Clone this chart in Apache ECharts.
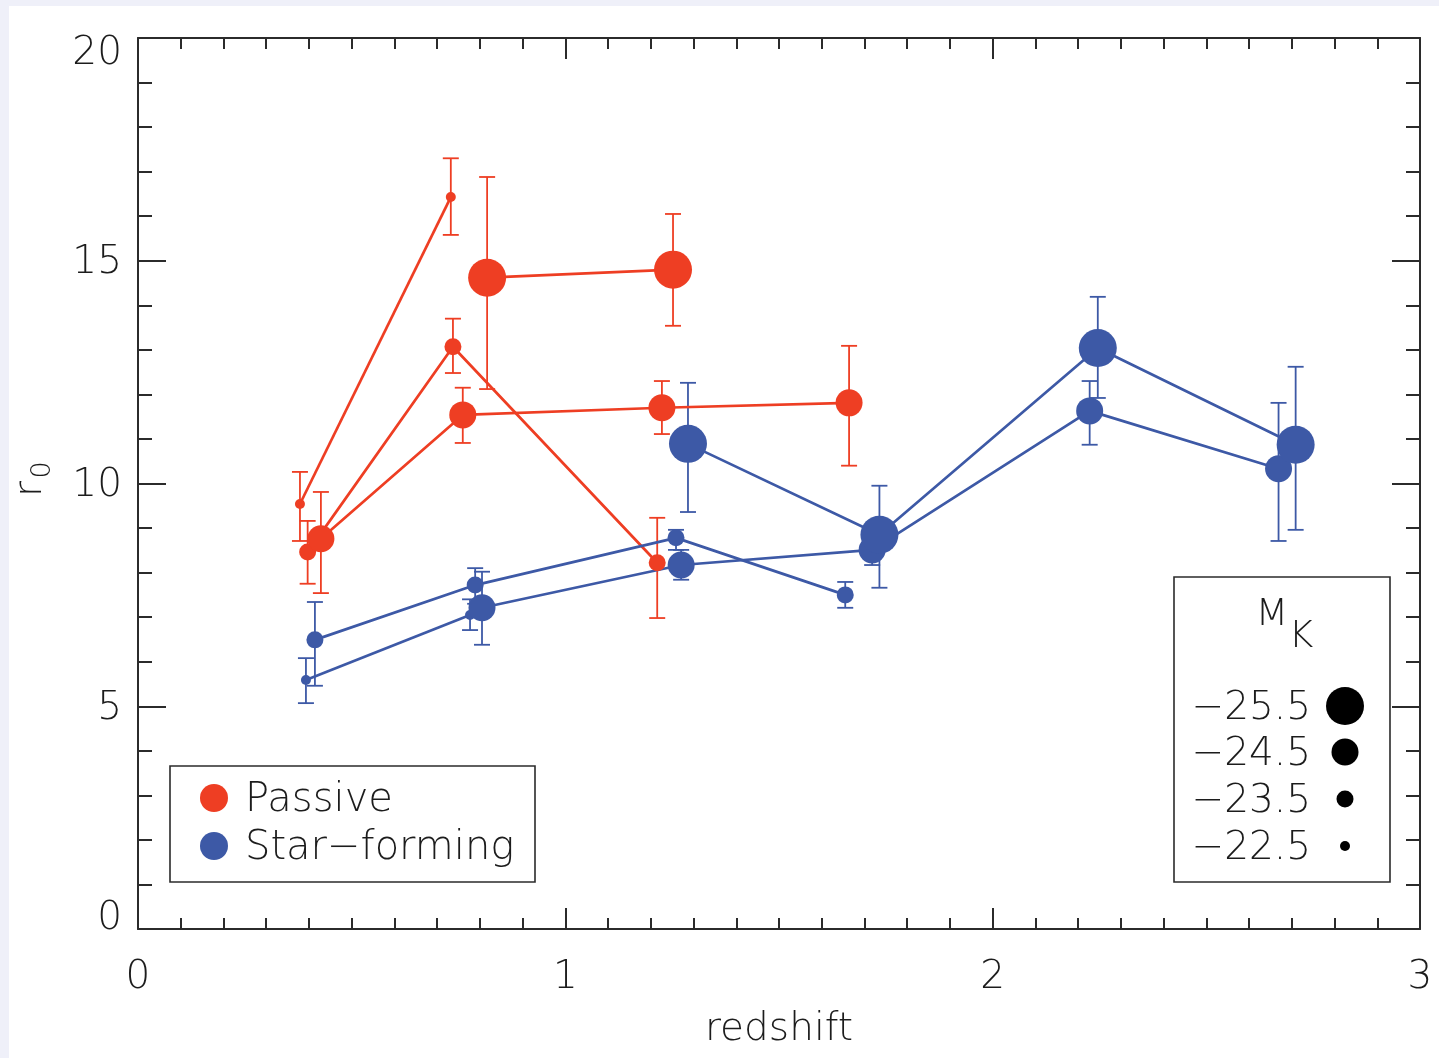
<!DOCTYPE html>
<html>
<head>
<meta charset="utf-8">
<script src="https://cdn.jsdelivr.net/npm/echarts@6/dist/echarts.min.js"></script>
<style>
html,body{margin:0;padding:0;background:#ffffff;}
#chart{width:1439px;height:1058px;}
</style>
</head>
<body>
<div id="chart"></div>
<script>
// ---------- data ----------
const xTicks = [0, 1, 2, 3];
const yTicks = [0, 5, 10, 15, 20];
const magnitudes = ['−25.5', '−24.5', '−23.5', '−22.5'];
const typeNames = ['Passive', 'Star−forming'];

// Passive, M_K = -22.5
const pas225_z  = [0.379, 0.732];
const pas225_r  = [9.54, 16.43];
const pas225_hi = [10.26, 17.30];
const pas225_lo = [8.71, 15.58];
// Passive, M_K = -23.5
const pas235_z  = [0.397, 0.737, 1.215];
const pas235_r  = [8.46, 13.07, 8.22];
const pas235_hi = [9.16, 13.70, 9.23];
const pas235_lo = [7.75, 12.48, 6.98];
// Passive, M_K = -24.5
const pas245_z  = [0.428, 0.760, 1.226, 1.664];
const pas245_r  = [8.76, 11.54, 11.70, 11.81];
const pas245_hi = [9.81, 12.15, 12.30, 13.09];
const pas245_lo = [7.54, 10.91, 11.11, 10.40];
// Passive, M_K = -25.5
const pas255_z  = [0.817, 1.252];
const pas255_r  = [14.62, 14.80];
const pas255_hi = [16.88, 16.05];
const pas255_lo = [12.12, 13.54];

// Star-forming, M_K = -22.5
const sf225_z  = [0.393, 0.777];
const sf225_r  = [5.59, 7.05];
const sf225_hi = [6.08, 7.40];
const sf225_lo = [5.07, 6.71];
// Star-forming, M_K = -23.5
const sf235_z  = [0.414, 0.789, 1.259, 1.655];
const sf235_r  = [6.49, 7.72, 8.78, 7.50];
const sf235_hi = [7.34, 8.10, 8.96, 7.79];
const sf235_lo = [5.46, 7.30, 8.51, 7.21];
// Star-forming, M_K = -24.5
const sf245_z  = [0.805, 1.271, 1.718, 2.227, 2.669];
const sf245_r  = [7.21, 8.17, 8.51, 11.63, 10.33];
const sf245_hi = [8.02, 8.51, 8.85, 12.30, 11.81];
const sf245_lo = [6.38, 7.84, 8.17, 10.87, 8.71];
// Star-forming, M_K = -25.5
const sf255_z  = [1.287, 1.735, 2.246, 2.709];
const sf255_r  = [10.89, 8.85, 13.04, 10.87];
const sf255_hi = [12.26, 9.95, 14.19, 12.62];
const sf255_lo = [9.36, 7.66, 11.92, 8.96];

// ---------- styles ----------
const RED = '#ee3e23';
const BLUE = '#3d59a6';
const INK = '#2b2b2b';
const TXT = '#1c1c1c';
const FONT = 'DejaVu Sans';
const FW = 200;
const sizeByMag = {'−25.5': 38, '−24.5': 27, '−23.5': 17, '−22.5': 10};

const groups = [
  {type: 1, mag: '−22.5', z: sf225_z, r: sf225_r, hi: sf225_hi, lo: sf225_lo},
  {type: 1, mag: '−23.5', z: sf235_z, r: sf235_r, hi: sf235_hi, lo: sf235_lo},
  {type: 1, mag: '−24.5', z: sf245_z, r: sf245_r, hi: sf245_hi, lo: sf245_lo},
  {type: 1, mag: '−25.5', z: sf255_z, r: sf255_r, hi: sf255_hi, lo: sf255_lo},
  {type: 0, mag: '−22.5', z: pas225_z, r: pas225_r, hi: pas225_hi, lo: pas225_lo},
  {type: 0, mag: '−23.5', z: pas235_z, r: pas235_r, hi: pas235_hi, lo: pas235_lo},
  {type: 0, mag: '−24.5', z: pas245_z, r: pas245_r, hi: pas245_hi, lo: pas245_lo},
  {type: 0, mag: '−25.5', z: pas255_z, r: pas255_r, hi: pas255_hi, lo: pas255_lo}
];

function errRender(color) {
  return function (params, api) {
    const x = api.value(0);
    const lo = api.coord([x, api.value(1)]);
    const hi = api.coord([x, api.value(2)]);
    const w = 8;
    const st = {stroke: color, lineWidth: 1.8};
    return {
      type: 'group',
      children: [
        {type: 'line', shape: {x1: lo[0], y1: lo[1], x2: hi[0], y2: hi[1]}, style: st},
        {type: 'line', shape: {x1: hi[0] - w, y1: hi[1], x2: hi[0] + w, y2: hi[1]}, style: st},
        {type: 'line', shape: {x1: lo[0] - w, y1: lo[1], x2: lo[0] + w, y2: lo[1]}, style: st}
      ]
    };
  };
}

const series = [];
[1, 0].forEach(function (t) {
  groups.filter(g => g.type === t).forEach(function (g) {
    const color = t === 0 ? RED : BLUE;
    series.push({
      type: 'custom',
      name: typeNames[t] + ' err ' + g.mag,
      renderItem: errRender(color),
      data: g.z.map((zz, i) => [zz, g.lo[i], g.hi[i]]),
      encode: {x: 0, y: [1, 2]},
      silent: true,
      animation: false,
      z: 2
    });
  });
});
[0, 1].forEach(function (t) {
  groups.filter(g => g.type === t).forEach(function (g) {
    const color = t === 0 ? RED : BLUE;
    series.push({
      type: 'line',
      name: typeNames[t] + ' ' + g.mag,
      data: g.z.map((zz, i) => [zz, g.r[i]]),
      symbol: 'circle',
      symbolSize: sizeByMag[g.mag],
      showSymbol: true,
      lineStyle: {color: color, width: 2.7},
      itemStyle: {color: color},
      emphasis: {disabled: true},
      animation: false,
      z: 3
    });
  });
});

const tickStyle = {color: INK, width: 2};
const axisLineStyle = {color: INK, width: 2};

function xAxisDef(pos, showLabel) {
  return {
    type: 'value', position: pos, min: xTicks[0], max: xTicks[xTicks.length - 1], interval: 1,
    axisLine: {show: true, onZero: false, lineStyle: axisLineStyle},
    axisTick: {show: true, inside: true, length: 21, lineStyle: tickStyle},
    minorTick: {show: true, splitNumber: 10, length: 11, lineStyle: tickStyle},
    splitLine: {show: false},
    axisLabel: {show: showLabel, color: TXT, fontFamily: FONT, fontWeight: FW, fontSize: 39, margin: 29},
    name: showLabel ? 'redshift' : '',
    nameLocation: 'middle',
    nameGap: 81,
    nameTextStyle: {color: TXT, fontFamily: FONT, fontWeight: FW, fontSize: 39}
  };
}
function yAxisDef(pos, showLabel) {
  const lbl = {fontFamily: FONT, fontWeight: FW, fontSize: 39, color: TXT};
  return {
    type: 'value', position: pos, min: yTicks[0], max: yTicks[yTicks.length - 1], interval: 5,
    axisLine: {show: true, onZero: false, lineStyle: axisLineStyle},
    axisTick: {show: true, inside: true, length: 28, lineStyle: tickStyle},
    minorTick: {show: true, splitNumber: 5, length: 14, lineStyle: tickStyle},
    splitLine: {show: false},
    axisLabel: {show: showLabel, color: TXT, fontFamily: FONT, fontWeight: FW, fontSize: 39, margin: 16,
      verticalAlignMinLabel: 'bottom', verticalAlignMaxLabel: 'top',
      formatter: function (v) {
        if (v === yTicks[0]) return '{mn|' + v + '}';
        if (v === yTicks[yTicks.length - 1]) return '{mx|' + v + '}';
        return '{md|' + v + '}';
      },
      rich: {
        mn: Object.assign({lineHeight: 21}, lbl),
        mx: Object.assign({lineHeight: 27, padding: [4, 0, 0, 0]}, lbl),
        md: Object.assign({lineHeight: 27, padding: [5, 0, 0, 0]}, lbl)
      }
    }
  };
}

function font(px) { return FW + ' ' + px + 'px "DejaVu Sans"'; }

const graphics = [
  {type: 'rect', shape: {x: 0, y: 0, width: 1439, height: 6}, style: {fill: '#eff0f9'}, z: -10, silent: true},
  {type: 'rect', shape: {x: 0, y: 0, width: 9, height: 1058}, style: {fill: '#eff0f9'}, z: -10, silent: true},
  {type: 'text', x: 31, y: 489, rotation: Math.PI / 2,
    style: {text: 'r', font: font(39), fill: TXT, textAlign: 'center', textVerticalAlign: 'middle'}, z: 10},
  {type: 'text', x: 43, y: 470, rotation: Math.PI / 2,
    style: {text: '0', font: font(27), fill: TXT, textAlign: 'center', textVerticalAlign: 'middle'}, z: 10},
  {type: 'rect', shape: {x: 170, y: 766, width: 365, height: 116},
    style: {fill: '#ffffff', stroke: INK, lineWidth: 1.6}, z: 10},
  {type: 'circle', shape: {cx: 214, cy: 798, r: 14}, style: {fill: RED}, z: 11},
  {type: 'circle', shape: {cx: 214, cy: 846, r: 14}, style: {fill: BLUE}, z: 11},
  {type: 'text', x: 245, y: 801, style: {text: typeNames[0], font: font(40), fill: TXT, textAlign: 'left', textVerticalAlign: 'middle'}, z: 11},
  {type: 'text', x: 245, y: 849, style: {text: typeNames[1], font: font(40), fill: TXT, textAlign: 'left', textVerticalAlign: 'middle'}, z: 11},
  {type: 'rect', shape: {x: 1174, y: 577, width: 216, height: 305},
    style: {fill: '#ffffff', stroke: INK, lineWidth: 1.6}, z: 10},
  {type: 'text', x: 1272, y: 615, style: {text: 'M', font: font(38), fill: TXT, textAlign: 'center', textVerticalAlign: 'middle'}, z: 11},
  {type: 'text', x: 1301, y: 637, style: {text: 'K', font: font(38), fill: TXT, textAlign: 'center', textVerticalAlign: 'middle'}, z: 11}
];
const magRowY = [706, 752, 799, 846];
magnitudes.forEach(function (m, i) {
  graphics.push({type: 'text', x: 1311, y: magRowY[i] + 3,
    style: {text: m, font: font(39), fill: TXT, textAlign: 'right', textVerticalAlign: 'middle'}, z: 11});
  graphics.push({type: 'circle', shape: {cx: 1345, cy: magRowY[i], r: sizeByMag[m] / 2}, style: {fill: '#000000'}, z: 11});
});

const chart = echarts.init(document.getElementById('chart'), null, {renderer: 'canvas'});
chart.setOption({
  backgroundColor: '#ffffff',
  animation: false,
  textStyle: {fontFamily: FONT},
  grid: {left: 138, right: 19, top: 38, bottom: 129, containLabel: false, outerBoundsMode: 'none'},
  xAxis: [xAxisDef('bottom', true), xAxisDef('top', false)],
  yAxis: [yAxisDef('left', true), yAxisDef('right', false)],
  series: series,
  graphic: graphics
});
</script>
</body>
</html>
